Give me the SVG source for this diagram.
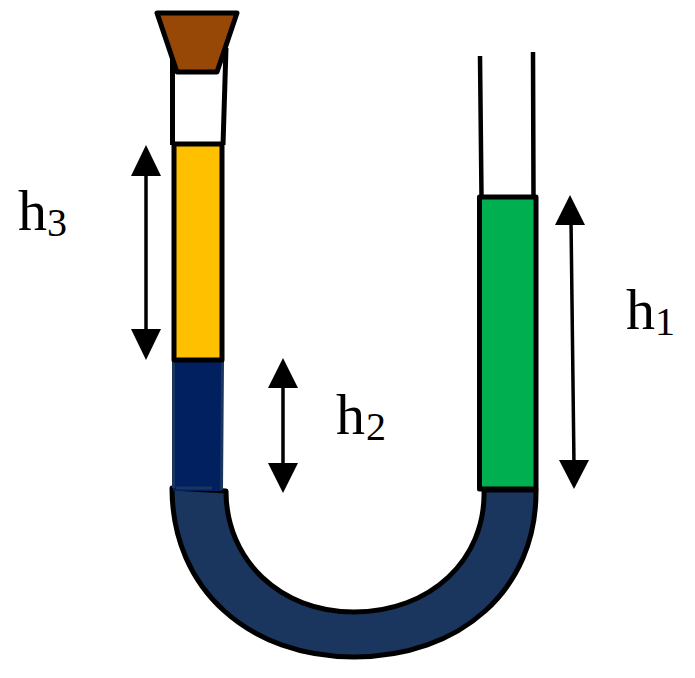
<svg xmlns="http://www.w3.org/2000/svg" width="695" height="678" viewBox="0 0 695 678">
<defs><style>
.o{stroke:#000;stroke-width:5;stroke-linejoin:round}
.a{stroke:#000;stroke-width:3.5;fill:none}
.h{fill:#000;stroke:none}
text{font-family:"Liberation Serif","Times New Roman",serif;fill:#000}
.m{font-size:58px}
.s{font-size:40px}
</style></defs>
<rect width="695" height="678" fill="#fff"/>
<g id="left-tube"><path d="M172.500 50V145M226 48L223 145" fill="none" stroke="#000" stroke-width="5"/></g>
<g id="right-tube"><path d="M480 56L481.500 197M533 52L533.500 197" fill="none" stroke="#000" stroke-width="4.500"/></g>
<g id="u-bend"><path class="o" d="M172 488C172 590 250 657 354 657C460 657 537 590 536 490L484 490C486 560 430 612 354 612C280 612 226 560 226 491Z" fill="#1a355e"/></g>
<g id="column-navy"><path d="M173 361H222L221 491H173Z" fill="#002060"/><path d="M173.500 361V488M222.500 361L221.500 490" fill="none" stroke="#1a355e" stroke-width="3"/></g>
<path d="M176 488H212" stroke="#1a355e" stroke-width="3" fill="none"/>
<g id="column-yellow"><path class="o" d="M174 144H222V360H174Z" fill="#ffc000"/></g>
<g id="column-green"><path class="o" d="M479.500 197H536V489H479.500Z" fill="#00b050"/></g>
<g id="stopper"><path class="o" d="M157 13H237L217 72H177Z" fill="#974706"/></g>
<g id="connectors">
<g id="arrow-h3"><path class="a" d="M146 170V335"/><path class="h" d="M146 145L161 176H131Z"/><path class="h" d="M146 360L131 329H161Z"/></g>
<g id="arrow-h2"><path class="a" d="M283 382V468"/><path class="h" d="M283 358L298 388H268Z"/><path class="h" d="M283 493L268 463H298Z"/></g>
<g id="arrow-h1"><path class="a" d="M571 220L574 465"/><path class="h" d="M570 195L585 225H555Z"/><path class="h" d="M574 489L559 460H589Z"/></g>
</g>
<g id="label-h3"><text class="m" x="18" y="230">h</text><text class="s" x="47" y="236">3</text></g>
<g id="label-h2"><text class="m" x="336" y="434">h</text><text class="s" x="366" y="440">2</text></g>
<g id="label-h1"><text class="m" x="626" y="329">h</text><text class="s" x="655" y="335">1</text></g>
</svg>
